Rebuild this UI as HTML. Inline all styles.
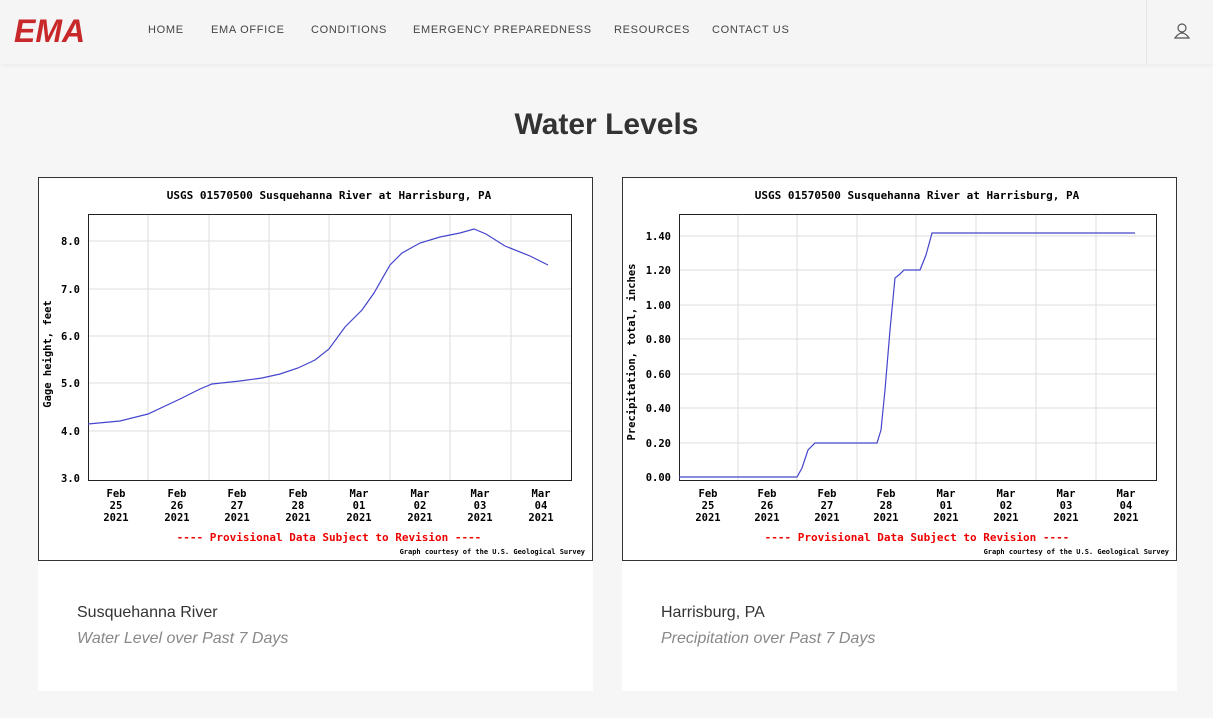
<!DOCTYPE html>
<html><head><style>
body{margin:0;width:1213px;height:718px;background:#f6f6f6;font-family:"Liberation Sans",sans-serif;overflow:hidden;position:relative}
.hdr{position:absolute;left:0;top:0;width:1213px;height:64px;background:#f5f5f5;box-shadow:0 2px 4px rgba(0,0,0,.04)}
.logo{position:absolute;left:14px;top:13px;font:italic 900 32px "Liberation Sans",sans-serif;color:#c8282a;letter-spacing:0px}
.nav{position:absolute;top:24px;font-size:11px;letter-spacing:0.7px;color:#444}
.div{position:absolute;left:1146px;top:0;width:1px;height:64px;background:#e4e4e4}
h1{position:absolute;left:0;width:1213px;top:108px;margin:0;text-align:center;font:bold 30px "Liberation Sans",sans-serif;color:#333}
.card{position:absolute;top:561px;width:555px;height:130px;background:#fff}
.card .t{position:absolute;left:39px;top:43px;font-size:16px;color:#333}
.card .s{position:absolute;left:39px;top:69px;font-size:16px;font-style:italic;color:#888}
svg text{font-family:"DejaVu Sans Mono","Liberation Mono",monospace;font-weight:bold}
</style></head><body>
<div class="hdr"></div>
<div class="logo">EMA</div>
<div class="nav" style="left:148px">HOME</div>
<div class="nav" style="left:211px">EMA OFFICE</div>
<div class="nav" style="left:311px">CONDITIONS</div>
<div class="nav" style="left:413px">EMERGENCY PREPAREDNESS</div>
<div class="nav" style="left:614px">RESOURCES</div>
<div class="nav" style="left:712px">CONTACT US</div>
<div class="div"></div>
<svg style="position:absolute;left:1173px;top:22px" width="18" height="18" viewBox="0 0 18 18"><circle cx="9" cy="6" r="4" fill="none" stroke="#555" stroke-width="1.2"/><path d="M2 16 Q9 6 16 16 Z" fill="none" stroke="#555" stroke-width="1.2"/></svg>
<h1>Water Levels</h1>
<div class="card" style="left:38px"><div class="t">Susquehanna River</div><div class="s">Water Level over Past 7 Days</div></div>
<div class="card" style="left:622px"><div class="t">Harrisburg, PA</div><div class="s">Precipitation over Past 7 Days</div></div>
<svg style="position:absolute;left:0;top:0" width="1213" height="718">
<g>
<rect x="38.5" y="177.5" width="554" height="383" fill="#fff" stroke="#333"/>
<text x="329" y="199" font-size="11" text-anchor="middle">USGS 01570500 Susquehanna River at Harrisburg, PA</text>
<g stroke="#ddd">
<line x1="88" x2="571" y1="241" y2="241"/><line x1="88" x2="571" y1="289" y2="289"/><line x1="88" x2="571" y1="336" y2="336"/><line x1="88" x2="571" y1="383" y2="383"/><line x1="88" x2="571" y1="431" y2="431"/>
<line x1="148" x2="148" y1="214" y2="480"/><line x1="209" x2="209" y1="214" y2="480"/><line x1="269" x2="269" y1="214" y2="480"/><line x1="329" x2="329" y1="214" y2="480"/><line x1="390" x2="390" y1="214" y2="480"/><line x1="450" x2="450" y1="214" y2="480"/><line x1="511" x2="511" y1="214" y2="480"/>
</g>
<rect x="88.5" y="214.5" width="483" height="266" fill="none" stroke="#222"/>
<g font-size="10.5" text-anchor="end"><text x="80" y="245">8.0</text><text x="80" y="293">7.0</text><text x="80" y="340">6.0</text><text x="80" y="387">5.0</text><text x="80" y="435">4.0</text><text x="80" y="482">3.0</text></g>
<text transform="translate(51,354) rotate(-90)" font-size="10.5" text-anchor="middle">Gage height, feet</text>
<g font-size="10.5" text-anchor="middle">
<text x="116" y="497">Feb</text><text x="116" y="509">25</text><text x="116" y="521">2021</text>
<text x="177" y="497">Feb</text><text x="177" y="509">26</text><text x="177" y="521">2021</text>
<text x="237" y="497">Feb</text><text x="237" y="509">27</text><text x="237" y="521">2021</text>
<text x="298" y="497">Feb</text><text x="298" y="509">28</text><text x="298" y="521">2021</text>
<text x="359" y="497">Mar</text><text x="359" y="509">01</text><text x="359" y="521">2021</text>
<text x="420" y="497">Mar</text><text x="420" y="509">02</text><text x="420" y="521">2021</text>
<text x="480" y="497">Mar</text><text x="480" y="509">03</text><text x="480" y="521">2021</text>
<text x="541" y="497">Mar</text><text x="541" y="509">04</text><text x="541" y="521">2021</text>
</g>
<text x="329" y="541" font-size="11" fill="#e00" text-anchor="middle">---- Provisional Data Subject to Revision ----</text>
<text x="585" y="554" font-size="7" text-anchor="end" font-weight="normal">Graph courtesy of the U.S. Geological Survey</text>
<polyline fill="none" stroke="#44c" stroke-width="1.2" points="88,424 120,421 148,414 180,399 200,389 212,384 240,381 262,378 280,374 298,368 315,360 329,349 345,327 362,310 374,293 390,265 402,253 420,243 440,237 460,233 474,229 486,234 505,246 530,256 548,265"/>
</g>
<g>
<rect x="622.5" y="177.5" width="554" height="383" fill="#fff" stroke="#333"/>
<text x="917" y="199" font-size="11" text-anchor="middle">USGS 01570500 Susquehanna River at Harrisburg, PA</text>
<g stroke="#ddd">
<line x1="679" x2="1156" y1="236" y2="236"/><line x1="679" x2="1156" y1="270" y2="270"/><line x1="679" x2="1156" y1="305" y2="305"/><line x1="679" x2="1156" y1="339" y2="339"/><line x1="679" x2="1156" y1="374" y2="374"/><line x1="679" x2="1156" y1="408" y2="408"/><line x1="679" x2="1156" y1="443" y2="443"/>
<line x1="738" x2="738" y1="214" y2="480"/><line x1="797" x2="797" y1="214" y2="480"/><line x1="857" x2="857" y1="214" y2="480"/><line x1="916" x2="916" y1="214" y2="480"/><line x1="976" x2="976" y1="214" y2="480"/><line x1="1036" x2="1036" y1="214" y2="480"/><line x1="1096" x2="1096" y1="214" y2="480"/>
</g>
<rect x="679.5" y="214.5" width="477" height="266" fill="none" stroke="#222"/>
<g font-size="10.5" text-anchor="end"><text x="671" y="240">1.40</text><text x="671" y="274">1.20</text><text x="671" y="309">1.00</text><text x="671" y="343">0.80</text><text x="671" y="378">0.60</text><text x="671" y="412">0.40</text><text x="671" y="447">0.20</text><text x="671" y="481">0.00</text></g>
<text transform="translate(635,352) rotate(-90)" font-size="10.5" text-anchor="middle">Precipitation, total, inches</text>
<g font-size="10.5" text-anchor="middle">
<text x="708" y="497">Feb</text><text x="708" y="509">25</text><text x="708" y="521">2021</text>
<text x="767" y="497">Feb</text><text x="767" y="509">26</text><text x="767" y="521">2021</text>
<text x="827" y="497">Feb</text><text x="827" y="509">27</text><text x="827" y="521">2021</text>
<text x="886" y="497">Feb</text><text x="886" y="509">28</text><text x="886" y="521">2021</text>
<text x="946" y="497">Mar</text><text x="946" y="509">01</text><text x="946" y="521">2021</text>
<text x="1006" y="497">Mar</text><text x="1006" y="509">02</text><text x="1006" y="521">2021</text>
<text x="1066" y="497">Mar</text><text x="1066" y="509">03</text><text x="1066" y="521">2021</text>
<text x="1126" y="497">Mar</text><text x="1126" y="509">04</text><text x="1126" y="521">2021</text>
</g>
<text x="917" y="541" font-size="11" fill="#e00" text-anchor="middle">---- Provisional Data Subject to Revision ----</text>
<text x="1169" y="554" font-size="7" text-anchor="end" font-weight="normal">Graph courtesy of the U.S. Geological Survey</text>
<polyline fill="none" stroke="#44c" stroke-width="1.2" points="679,477 797,477 802,468 808,450 815,443 877,443 881,430 885,390 890,330 895,278 900,274 904,270 920,270 926,255 932,233 1135,233"/>
</g>
</svg>
</body></html>
